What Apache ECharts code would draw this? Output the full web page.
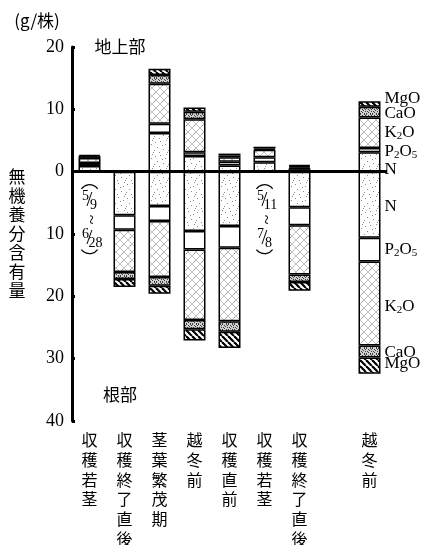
<!DOCTYPE html>
<html>
<head>
<meta charset="utf-8">
<script src="https://cdn.jsdelivr.net/npm/echarts@6/dist/echarts.min.js"></script>
<style>
  html, body { margin: 0; padding: 0; background: #fff; }
  #main { width: 432px; height: 545px; }
</style>
</head>
<body>
<div id="main"></div>
<script>
// Sampling dates along the x axis
const categories = ['収穫若茎', '収穫終了直後', '茎葉繁茂期', '越冬前', '収穫直前', '収穫若茎', '収穫終了直後', '', '越冬前'];

// Above-ground parts (g per plant)
const N_up  = [0.9, '-', 6.2, 2.5, 1.0, 1.5, 0.4, '-', 3.1];
const P_up  = [0.5, '-', 1.5, 0.6, 0.6, 0.8, 0.1, '-', 0.7];
const K_up  = [0.8, '-', 6.4, 5.3, 0.7, 1.2, 0.2, '-', 4.9];
const Ca_up = [0.3, '-', 1.4, 1.2, 0.3, 0.2, 0.2, '-', 1.7];
const Mg_up = [0.2, '-', 1.0, 0.7, 0.3, 0.3, 0.2, '-', 0.9];

// Root parts (g per plant), drawn below zero
const N_dn  = ['-', 7.0, 5.5, 9.5, 8.7, '-', 5.7, '-', 10.6];
const P_dn  = ['-', 2.3, 2.4, 3.0, 3.5, '-', 2.9, '-', 3.8];
const K_dn  = ['-', 6.8, 9.0, 11.3, 11.8, '-', 7.9, '-', 13.5];
const Ca_dn = ['-', 1.1, 1.4, 1.5, 1.7, '-', 1.2, '-', 1.9];
const Mg_dn = ['-', 1.3, 1.3, 1.8, 2.6, '-', 1.4, '-', 2.6];

// Value axis tick labels
const yTicks = [-40, -30, -20, -10, 0, 10, 20];

const neg = arr => arr.map(v => (v === '-' ? '-' : -v));

// ---- fill textures ----
function tile(w, h, draw) {
  const c = document.createElement('canvas');
  c.width = w; c.height = h;
  const g = c.getContext('2d');
  draw(g, w, h);
  return c;
}
const dotsN = [[1,2],[6,1],[11,4],[3,7],[9,9],[13,12],[5,12],[0,10],[8,5],[12,0]];
const texN = tile(14, 14, (g, w, h) => {
  g.fillStyle = '#fff'; g.fillRect(0, 0, w, h);
  g.fillStyle = '#8a8a8a';
  dotsN.forEach(([x, y]) => g.fillRect(x, y, 1, 1));
});
const texP = '#ffffff';
const texK = tile(8, 8, (g, w, h) => {
  g.fillStyle = '#fff'; g.fillRect(0, 0, w, h);
  g.strokeStyle = 'rgba(90,90,90,0.55)'; g.lineWidth = 0.7;
  for (const k of [-8, 0, 8]) {
    g.beginPath(); g.moveTo(k, 0); g.lineTo(k + 8, 8); g.stroke();
    g.beginPath(); g.moveTo(k + 8, 0); g.lineTo(k, 8); g.stroke();
  }
  g.fillStyle = '#777'; g.fillRect(2, 5, 1, 1);
});
const dotsCa = [[0,0],[2,1],[4,0],[1,3],[3,2],[5,3],[0,5],[2,4],[4,5],[5,1]];
const texCa = tile(6, 6, (g, w, h) => {
  g.fillStyle = '#cfcfcf'; g.fillRect(0, 0, w, h);
  g.fillStyle = '#404040';
  dotsCa.forEach(([x, y]) => g.fillRect(x, y, 1, 1));
});
const texMg = tile(6, 6, (g, w, h) => {
  g.fillStyle = '#fff'; g.fillRect(0, 0, w, h);
  g.strokeStyle = '#000'; g.lineWidth = 2.2;
  for (const k of [-6, 0, 6]) {
    g.beginPath(); g.moveTo(k, 0); g.lineTo(k + 6, 6); g.stroke();
  }
});
const pat = c => (typeof c === 'string' ? c : { image: c, repeat: 'repeat' });

function seg(name, data, fill) {
  return {
    name, type: 'bar', stack: 'all', data, barWidth: 22,
    itemStyle: { color: pat(fill), borderColor: '#000', borderWidth: 1.5 },
    emphasis: { disabled: true },
    animation: false
  };
}

const series = [
  seg('N', N_up, texN), seg('P2O5', P_up, texP), seg('K2O', K_up, texK),
  seg('CaO', Ca_up, texCa), seg('MgO', Mg_up, texMg),
  seg('N (根)', neg(N_dn), texN), seg('P2O5 (根)', neg(P_dn), texP), seg('K2O (根)', neg(K_dn), texK),
  seg('CaO (根)', neg(Ca_dn), texCa), seg('MgO (根)', neg(Mg_dn), texMg)
];
// zero baseline across the plot
series[0].markLine = {
  silent: true, symbol: 'none', animation: false,
  label: { show: false },
  lineStyle: { color: '#000', width: 3, type: 'solid' },
  data: [{ yAxis: 0 }]
};

const serif = 'Liberation Serif';
const cjk = 'Noto Sans CJK JP';

const chart = echarts.init(document.getElementById('main'), null, { renderer: 'canvas' });
chart.setOption({
  animation: false,
  grid: { left: 72, right: 45, top: 47, bottom: 124, outerBoundsMode: 'none', containLabel: false },
  xAxis: {
    type: 'category', data: categories,
    axisLine: { show: false }, axisTick: { show: false },
    axisLabel: {
      interval: 0, margin: 9, color: '#000', fontFamily: cjk, fontSize: 16,
      lineHeight: 19.8, verticalAlign: 'top',
      formatter: v => v.split('').join('\n')
    }
  },
  yAxis: {
    type: 'value', min: yTicks[0], max: yTicks[yTicks.length - 1], interval: 10,
    splitLine: { show: false },
    axisLine: { show: true, lineStyle: { color: '#000', width: 3 } },
    axisTick: { show: true, inside: true, length: 3, lineStyle: { color: '#000', width: 3 } },
    axisLabel: { color: '#000', fontFamily: serif, fontSize: 18, margin: 8, formatter: v => String(Math.abs(v)) }
  },
  series
});

// ---- text annotations ----
const toPx = (i, v) => chart.convertToPixel({ seriesIndex: 0 }, [i, v]);
const y0 = toPx(0, 0)[1];
const g = [];
const txt = (x, y, text, size, opts = {}) => g.push(Object.assign({
  type: 'text', x, y,
  style: Object.assign({ text, fill: '#000', fontSize: size, fontFamily: opts.font || serif, align: 'center', verticalAlign: 'middle' }, opts.style || {})
}, opts.el || {}));

txt(37, 21, '(g/株)', 17, { font: cjk });
txt(120, 47, '地上部', 17, { font: cjk });
txt(120, 395, '根部', 17, { font: cjk });
txt(17, 234, '無\n機\n養\n分\n含\n有\n量', 17, { font: cjk, style: { lineHeight: 19 } });

// harvest period brackets under the spear bars
function period(idx, a, b) {
  const cx = toPx(idx, 0)[0];
  const arc = (cy, s, e) => g.push({ type: 'arc', shape: { cx, cy, r: 10, startAngle: s, endAngle: e },
    style: { stroke: '#000', lineWidth: 1.2, fill: null } });
  arc(y0 + 23, Math.PI * 1.2, Math.PI * 1.8);
  const frac = (cy, num, den) => {
    txt(cx - 4, cy - 4, num, 14);
    txt(cx, cy, '/', 21);
    txt(cx + (den.length > 1 ? 6 : 4), cy + 5, den, 14);
  };
  frac(y0 + 29, a[0], a[1]);
  g.push({ type: 'text', x: cx, y: y0 + 48, rotation: -Math.PI / 2,
    style: { text: '~', fill: '#000', fontSize: 18, fontFamily: serif, align: 'center', verticalAlign: 'middle' } });
  frac(y0 + 67, b[0], b[1]);
  arc(y0 + 72, Math.PI * 0.2, Math.PI * 0.8);
}
period(0, ['5', '9'], ['6', '28']);
period(5, ['5', '11'], ['7', '8']);

// nutrient names beside the last bar
const lx = toPx(8, 0)[0] + 15;
const rich = { s: { fontSize: 11, fontFamily: serif, fill: '#000', padding: [7, 0, 0, 0] } };
const upLabels = [['MgO', 11.8], ['CaO', 9.4], ['K{s|2}O', 6.3], ['P{s|2}O{s|5}', 3.2], ['N', 0.4]];
const dnLabels = [['N', -5.6], ['P{s|2}O{s|5}', -12.5], ['K{s|2}O', -21.6], ['CaO', -29.0], ['MgO', -30.8]];
upLabels.concat(dnLabels).forEach(([t, v]) => {
  g.push({ type: 'text', x: lx, y: toPx(8, v)[1],
    style: { text: t, rich, fill: '#000', fontSize: 17, fontFamily: serif, align: 'left', verticalAlign: 'middle' } });
});

chart.setOption({ graphic: g });
</script>
</body>
</html>
